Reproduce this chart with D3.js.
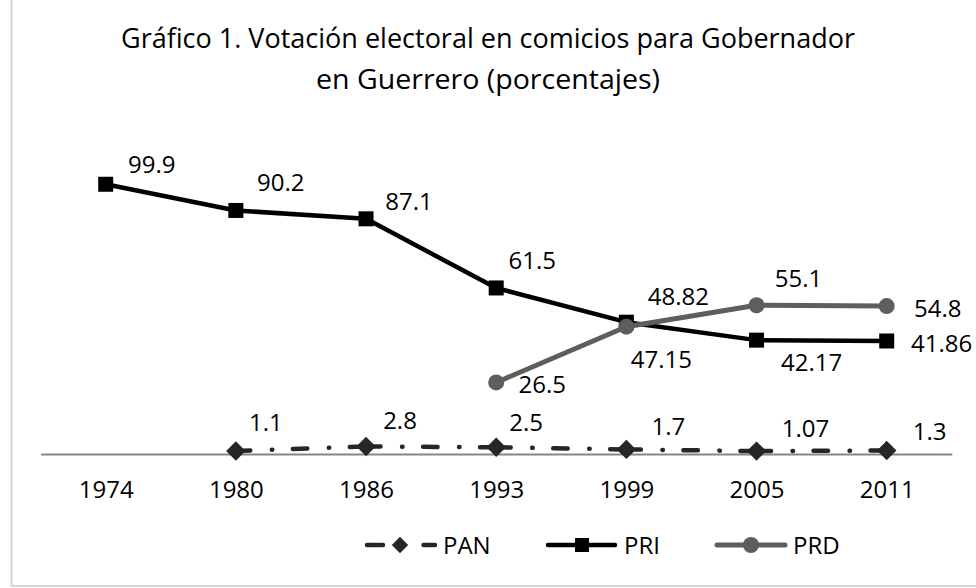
<!DOCTYPE html>
<html>
<head>
<meta charset="utf-8">
<script src="https://cdn.jsdelivr.net/npm/d3@7"></script>
<style>
  html, body { margin: 0; padding: 0; background: #fff; }
  svg { display: block; font-family: "Open Sans", "Noto Sans", sans-serif; }
</style>
</head>
<body>
<svg id="chart" width="976" height="588"></svg>
<script>
// ---- data ----
const years = ["1974", "1980", "1986", "1993", "1999", "2005", "2011"];
const pan = [null, 1.1, 2.8, 2.5, 1.7, 1.07, 1.3];
const pri = [99.9, 90.2, 87.1, 61.5, 48.82, 42.17, 41.86];
const prd = [null, null, null, 26.5, 47.15, 55.1, 54.8];
const titleLines = ["Gráfico 1. Votación electoral en comicios para Gobernador", "en Guerrero (porcentajes)"];
const seriesNames = ["PAN", "PRI", "PRD"];

// ---- label offsets (layout only) ----
const panOff = [null, [30, -29], [34, -26], [30, -25], [42, -23], [49, -23], [43, -19]];
const priOff = [[46, -20], [45, -28], [43, -17], [36, -28], [52, -26], [55, 22], [55, 2]];
const prdOff = [null, null, null, [46, 2], [35, 33], [42, -27], [51, 2]];

const svg = d3.select("#chart");
const txtColor = "#000";
const fs = 24;

// chart border
svg.append("rect").attr("x", 11.5).attr("y", -10).attr("width", 1000).attr("height", 596)
  .attr("fill", "#fff").attr("stroke", "#d4d4d4").attr("stroke-width", 2);

// title
titleLines.forEach((t, i) => {
  svg.append("text").attr("x", 488).attr("y", i === 0 ? 48 : 89)
    .attr("text-anchor", "middle").attr("font-size", 26.5).attr("fill", txtColor)
    .attr("textLength", i === 0 ? 734 : 344).attr("lengthAdjust", "spacingAndGlyphs")
    .text(t);
});

const x = d3.scalePoint().domain(years).range([40.6, 951.8]).padding(0.5);
const y = d3.scaleLinear().domain([0, 120]).range([454, 130]);

// x axis
const axis = svg.append("g").attr("transform", "translate(0,454)")
  .call(d3.axisBottom(x).tickSizeInner(0).tickSizeOuter(0).tickPadding(27));
axis.select(".domain").attr("stroke", "#868686").attr("stroke-width", 2);
axis.selectAll("text").attr("font-size", fs).attr("fill", txtColor)
  .attr("font-family", "'Open Sans', sans-serif");

const toPts = (vals) => years.map((yr, i) => ({ yr, v: vals[i], i })).filter(d => d.v != null);

// PAN: dash-dot, pattern restarts at each vertex
const panPts = toPts(pan);
const panColor = "#262626";
const panDash = "14.5,21.5,0.5,20.5";
for (let k = 0; k < panPts.length - 1; k++) {
  const a = panPts[k], b = panPts[k + 1];
  svg.append("path")
    .attr("d", d3.line()([[x(a.yr), y(a.v)], [x(b.yr), y(b.v)]]))
    .attr("fill", "none").attr("stroke", panColor).attr("stroke-width", 4.5)
    .attr("stroke-linecap", "round").attr("stroke-dasharray", panDash);
}
const diamond = d3.symbol().type(d3.symbolDiamond2).size(240);
svg.selectAll(".panm").data(panPts).join("path")
  .attr("transform", d => `translate(${x(d.yr)},${y(d.v)})`)
  .attr("d", diamond).attr("fill", panColor);

// PRI
const priPts = toPts(pri);
svg.append("path").datum(priPts)
  .attr("d", d3.line().x(d => x(d.yr)).y(d => y(d.v)))
  .attr("fill", "none").attr("stroke", "#000").attr("stroke-width", 4.5)
  .attr("stroke-linejoin", "round");
svg.selectAll(".prim").data(priPts).join("rect")
  .attr("x", d => x(d.yr) - 7.5).attr("y", d => y(d.v) - 7.5)
  .attr("width", 15).attr("height", 15).attr("fill", "#000");

// PRD
const prdPts = toPts(prd);
const prdColor = "#5e5e5e";
svg.append("path").datum(prdPts)
  .attr("d", d3.line().x(d => x(d.yr)).y(d => y(d.v)))
  .attr("fill", "none").attr("stroke", prdColor).attr("stroke-width", 5)
  .attr("stroke-linejoin", "round");
svg.selectAll(".prdm").data(prdPts).join("circle")
  .attr("cx", d => x(d.yr)).attr("cy", d => y(d.v)).attr("r", 8).attr("fill", prdColor);

// data labels
function labels(pts, offs) {
  svg.selectAll(null).data(pts).join("text")
    .attr("x", d => x(d.yr) + offs[d.i][0])
    .attr("y", d => y(d.v) + offs[d.i][1])
    .attr("dy", "0.36em")
    .attr("text-anchor", "middle").attr("font-size", fs).attr("fill", txtColor)
    .text(d => String(d.v));
}
labels(panPts, panOff);
labels(priOff && priPts, priOff);
labels(prdPts, prdOff);

// legend
const ly = 545;
const lg = svg.append("g");
// PAN
lg.append("line").attr("x1", 367).attr("x2", 435).attr("y1", ly).attr("y2", ly)
  .attr("stroke", panColor).attr("stroke-width", 4.5).attr("stroke-linecap", "round")
  .attr("stroke-dasharray", "16,40.5,12");
lg.append("path").attr("transform", `translate(400,${ly})`)
  .attr("d", d3.symbol().type(d3.symbolDiamond2).size(170)).attr("fill", panColor);
lg.append("text").attr("x", 443).attr("y", ly).attr("dy", "0.36em")
  .attr("font-size", fs).attr("fill", txtColor).text(seriesNames[0]);
// PRI
lg.append("line").attr("x1", 548).attr("x2", 615).attr("y1", ly).attr("y2", ly)
  .attr("stroke", "#000").attr("stroke-width", 4.5).attr("stroke-linecap", "round");
lg.append("rect").attr("x", 575).attr("y", ly - 7).attr("width", 14).attr("height", 14).attr("fill", "#000");
lg.append("text").attr("x", 624).attr("y", ly).attr("dy", "0.36em")
  .attr("font-size", fs).attr("fill", txtColor).text(seriesNames[1]);
// PRD
lg.append("line").attr("x1", 717).attr("x2", 785).attr("y1", ly).attr("y2", ly)
  .attr("stroke", prdColor).attr("stroke-width", 5).attr("stroke-linecap", "round");
lg.append("circle").attr("cx", 751).attr("cy", ly).attr("r", 8).attr("fill", prdColor);
lg.append("text").attr("x", 793).attr("y", ly).attr("dy", "0.36em")
  .attr("font-size", fs).attr("fill", txtColor).text(seriesNames[2]);
</script>
</body>
</html>
